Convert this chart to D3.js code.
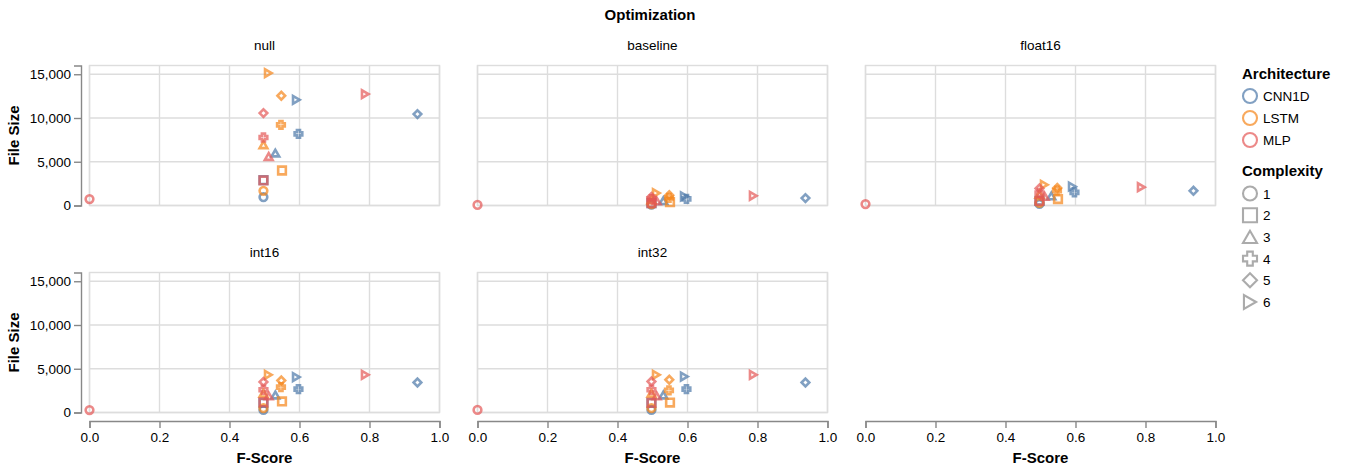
<!DOCTYPE html>
<html>
<head>
<meta charset="utf-8">
<script src="https://cdn.jsdelivr.net/npm/d3@7"></script>
<style>
  html, body { margin: 0; padding: 0; background: #fff; }
  svg { display: block; font-family: "Liberation Sans", Arial, sans-serif; }
</style>
</head>
<body>
<svg id="chart" width="1349" height="469"></svg>
<script>
// ---- data -------------------------------------------------------------
const optimizations = ["null", "baseline", "float16", "int16", "int32"];
const architectures = ["CNN1D", "LSTM", "MLP"];
const complexities = [1, 2, 3, 4, 5, 6];
const archColors = ["#4c78a8", "#f58518", "#e45756"];

// F-Score per model, indexed by complexity 1..6
const fScoreCNN1D = [0.497, 0.497, 0.531, 0.597, 0.937, 0.591];
const fScoreLSTM  = [0.497, 0.550, 0.497, 0.547, 0.548, 0.511];
const fScoreMLP   = [0.000, 0.497, 0.512, 0.497, 0.497, 0.788];

// File size per optimization and architecture, indexed by complexity 1..6
const nullCNN1D = [960, 2900, 5990, 8190, 10450, 12080];
const nullLSTM  = [1680, 4000, 6940, 9220, 12540, 15130];
const nullMLP   = [730, 2860, 5600, 7770, 10560, 12730];

const baselineCNN1D = [90, 270, 550, 750, 850, 1050];
const baselineLSTM  = [160, 380, 650, 860, 1170, 1420];
const baselineMLP   = [70, 260, 520, 720, 980, 1110];

const float16CNN1D = [180, 540, 1100, 1500, 1680, 2170];
const float16LSTM  = [310, 740, 1280, 1700, 2000, 2370];
const float16MLP   = [160, 520, 1030, 1430, 1950, 2100];

const int16CNN1D = [300, 1100, 2000, 2670, 3430, 4050];
const int16LSTM  = [500, 1260, 2200, 2900, 3660, 4310];
const int16MLP   = [280, 1150, 1900, 2600, 3500, 4310];

const int32CNN1D = [300, 1100, 2000, 2670, 3430, 4110];
const int32LSTM  = [500, 1140, 2200, 2520, 3740, 4310];
const int32MLP   = [300, 1100, 1900, 2600, 3540, 4310];

const xTicks = [0, 0.2, 0.4, 0.6, 0.8, 1.0];
const yTicks = [0, 5000, 10000, 15000];

const fScores = { CNN1D: fScoreCNN1D, LSTM: fScoreLSTM, MLP: fScoreMLP };
const fileSizes = {
  null:     { CNN1D: nullCNN1D, LSTM: nullLSTM, MLP: nullMLP },
  baseline: { CNN1D: baselineCNN1D, LSTM: baselineLSTM, MLP: baselineMLP },
  float16:  { CNN1D: float16CNN1D, LSTM: float16LSTM, MLP: float16MLP },
  int16:    { CNN1D: int16CNN1D, LSTM: int16LSTM, MLP: int16MLP },
  int32:    { CNN1D: int32CNN1D, LSTM: int32LSTM, MLP: int32MLP }
};

const rows = [];
optimizations.forEach(opt => {
  architectures.forEach(arch => {
    complexities.forEach((c, i) => {
      rows.push({ opt, arch, complexity: c, f: fScores[arch][i], size: fileSizes[opt][arch][i] });
    });
  });
});

// ---- symbol shapes ------------------------------------------------------
const sq = Math.sqrt, HS3 = Math.sqrt(3) / 2;
const shapes = [
  { draw(ctx, s) { const r = sq(s) / 2; ctx.moveTo(r, 0); ctx.arc(0, 0, r, 0, 2 * Math.PI); } },
  { draw(ctx, s) { const w = sq(s), x = -w / 2; ctx.rect(x, x, w, w); } },
  { draw(ctx, s) { const r = sq(s) / 2, h = HS3 * r; ctx.moveTo(0, -h); ctx.lineTo(-r, h); ctx.lineTo(r, h); ctx.closePath(); } },
  { draw(ctx, s) {
      const r = sq(s) / 2, k = r / 2.5;
      ctx.moveTo(-r, -k); ctx.lineTo(-r, k); ctx.lineTo(-k, k); ctx.lineTo(-k, r);
      ctx.lineTo(k, r); ctx.lineTo(k, k); ctx.lineTo(r, k); ctx.lineTo(r, -k);
      ctx.lineTo(k, -k); ctx.lineTo(k, -r); ctx.lineTo(-k, -r); ctx.lineTo(-k, -k); ctx.closePath();
  } },
  { draw(ctx, s) { const r = sq(s) / 2; ctx.moveTo(-r, 0); ctx.lineTo(0, -r); ctx.lineTo(r, 0); ctx.lineTo(0, r); ctx.closePath(); } },
  { draw(ctx, s) { const r = sq(s) / 2, h = HS3 * r; ctx.moveTo(h, 0); ctx.lineTo(-h, -r); ctx.lineTo(-h, r); ctx.closePath(); } }
];

// ---- layout -------------------------------------------------------------
const W = 350, H = 140;
const colX = [89.5, 477.5, 865.5];
const rowY = [65.5, 272.5];
const axisOffset = 8.5;
const FONT = '"Liberation Sans", Arial, sans-serif';

const svg = d3.select("#chart");
const color = d3.scaleOrdinal().domain(architectures).range(archColors);
const shape = d3.scaleOrdinal().domain(complexities).range(shapes);
const x = d3.scaleLinear().domain([0, 1]).range([0, W]);
const y = d3.scaleLinear().domain([0, 16000]).range([H, 0]);

// overall facet title
svg.append("text")
  .attr("x", 650).attr("y", 19.5)
  .attr("text-anchor", "middle")
  .style("font", `bold 15px ${FONT}`).attr("fill", "#000")
  .text("Optimization");

optimizations.forEach((opt, idx) => {
  const col = idx % 3, row = Math.floor(idx / 3);
  const g = svg.append("g").attr("transform", `translate(${colX[col]},${rowY[row]})`);

  // header label
  svg.append("text")
    .attr("x", colX[col] + W / 2).attr("y", rowY[row] - 16)
    .attr("text-anchor", "middle")
    .style("font", `13.5px ${FONT}`).attr("fill", "#000")
    .text(opt);

  // grid
  g.append("g").selectAll("line.gx").data(xTicks).join("line")
    .attr("x1", d => x(d)).attr("x2", d => x(d)).attr("y1", 0).attr("y2", H)
    .attr("stroke", "#ddd").attr("stroke-width", 1.4);
  g.append("g").selectAll("line.gy").data(yTicks).join("line")
    .attr("x1", 0).attr("x2", W).attr("y1", d => y(d)).attr("y2", d => y(d))
    .attr("stroke", "#ddd").attr("stroke-width", 1.4);
  g.append("rect").attr("width", W).attr("height", H)
    .attr("fill", "none").attr("stroke", "#ddd").attr("stroke-width", 1.4);

  // points
  g.append("g").selectAll("path").data(rows.filter(d => d.opt === opt)).join("path")
    .attr("transform", d => `translate(${x(d.f)},${y(d.size)})`)
    .attr("d", d => d3.symbol(shape(d.complexity), 59)())
    .attr("fill", "none")
    .attr("stroke", d => color(d.arch))
    .attr("stroke-width", 2.6)
    .attr("stroke-opacity", 0.7);

  // y axis on the first column
  if (col === 0) {
    const ya = g.append("g").attr("transform", `translate(${-axisOffset},0)`)
      .call(d3.axisLeft(y).tickValues(yTicks).tickSize(7).tickPadding(3).tickFormat(d3.format(",")));
    ya.select(".domain").attr("stroke", "#888").attr("stroke-width", 1.4);
    ya.selectAll(".tick line").attr("stroke", "#888").attr("stroke-width", 1.4);
    ya.selectAll(".tick text").style("font", `13.5px ${FONT}`).attr("fill", "#000");
    g.append("text")
      .attr("transform", `translate(${-colX[col] + 19},${H / 2}) rotate(-90)`)
      .attr("text-anchor", "middle")
      .style("font", `bold 15px ${FONT}`).attr("fill", "#000")
      .text("File Size");
  }

  // x axis on the bottom panel of each column
  const isBottom = row === 1 || idx + 3 >= optimizations.length;
  if (isBottom) {
    const axisY = rowY[1] + H + axisOffset - rowY[row];
    const xa = g.append("g").attr("transform", `translate(0,${axisY})`)
      .call(d3.axisBottom(x).tickValues(xTicks).tickSize(7).tickPadding(4).tickFormat(d3.format(".1f")));
    xa.select(".domain").attr("stroke", "#888").attr("stroke-width", 1.4);
    xa.selectAll(".tick line").attr("stroke", "#888").attr("stroke-width", 1.4);
    xa.selectAll(".tick text").style("font", `13.5px ${FONT}`).attr("fill", "#000");
    g.append("text")
      .attr("x", W / 2).attr("y", axisY + 42)
      .attr("text-anchor", "middle")
      .style("font", `bold 15px ${FONT}`).attr("fill", "#000")
      .text("F-Score");
  }
});

// ---- legends ------------------------------------------------------------
const legend = svg.append("g").attr("transform", "translate(1242,0)");
legend.append("text").attr("x", 0).attr("y", 79)
  .style("font", `bold 15px ${FONT}`).attr("fill", "#000").text("Architecture");
const archItems = legend.selectAll("g.arch").data(architectures).join("g")
  .attr("transform", (d, i) => `translate(8,${96 + i * 22})`);
archItems.append("path")
  .attr("d", d3.symbol(shapes[0], 196)())
  .attr("fill", "none").attr("stroke", d => color(d))
  .attr("stroke-width", 2.1).attr("stroke-opacity", 0.7);
archItems.append("text").attr("x", 13).attr("y", 5)
  .style("font", `13.5px ${FONT}`).attr("fill", "#000").text(d => d);

legend.append("text").attr("x", 0).attr("y", 176)
  .style("font", `bold 15px ${FONT}`).attr("fill", "#000").text("Complexity");
const cxItems = legend.selectAll("g.cx").data(complexities).join("g")
  .attr("transform", (d, i) => `translate(8,${193.5 + i * 21.7})`);
cxItems.append("path")
  .attr("d", d => d3.symbol(shape(d), 196)())
  .attr("fill", "none").attr("stroke", "#888")
  .attr("stroke-width", 2.1).attr("stroke-opacity", 0.7);
cxItems.append("text").attr("x", 13).attr("y", 5)
  .style("font", `13.5px ${FONT}`).attr("fill", "#000").text(d => d);
</script>
</body>
</html>
